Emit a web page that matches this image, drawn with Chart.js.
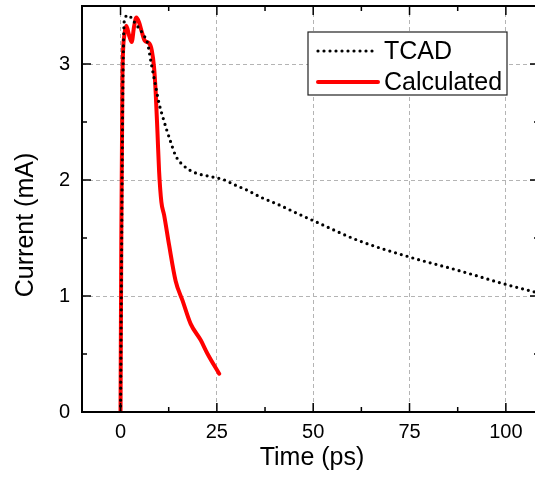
<!DOCTYPE html>
<html>
<head>
<meta charset="utf-8">
<script src="https://cdn.jsdelivr.net/npm/chart.js@4.4.1/dist/chart.umd.min.js"></script>
<style>
  html, body { margin: 0; padding: 0; background: #fff; overflow: hidden; }
  #wrap { width: 535px; height: 479px; overflow: hidden; }
</style>
</head>
<body>
<div id="wrap"><canvas id="c" width="539" height="479"></canvas></div>
<script>
// ---- data ----
const tcadTime = [0, 0.3, 0.6, 1, 2, 3, 4, 5, 6, 7, 8, 9, 10, 11, 12, 13, 14.3, 16.5, 19.5, 23.4, 27, 29.5, 33, 36.5, 40.8, 46, 50, 61.6, 75, 87.7, 100, 108];
const tcadCurrent = [0, 1.5, 2.8, 3.38, 3.42, 3.39, 3.34, 3.30, 3.25, 3.18, 3.00, 2.83, 2.66, 2.54, 2.43, 2.33, 2.21, 2.12, 2.06, 2.03, 2.0, 1.96, 1.91, 1.85, 1.79, 1.71, 1.65, 1.48, 1.336, 1.22, 1.10, 1.03];

const calcTime = [0, 0.2, 0.5, 1, 1.5, 2.2, 2.9, 3.5, 4.1, 4.8, 5.5, 6.3, 7.4, 8.1, 8.7, 9.1, 9.6, 10.0, 10.6, 11.3, 12.6, 14.3, 16.1, 18.2, 20.8, 22.6, 25.6];
const calcCurrent = [0, 1.5, 2.9, 3.25, 3.33, 3.25, 3.19, 3.32, 3.40, 3.36, 3.28, 3.20, 3.18, 3.12, 2.97, 2.77, 2.4, 2.08, 1.81, 1.70, 1.44, 1.13, 0.96, 0.76, 0.62, 0.50, 0.33];

const seriesLabels = ['TCAD', 'Calculated'];
const xTickValues = [0, 25, 50, 75, 100];
const yTickValues = [0, 1, 2, 3];
const xTitle = 'Time (ps)';
const yTitle = 'Current (mA)';

const FONT = '"Liberation Sans", Arial, sans-serif';

const toPts = (xs, ys) => xs.map((x, i) => ({ x: x, y: ys[i] }));

const framePlugin = {
  id: 'frame',
  afterDraw(chart) {
    const ctx = chart.ctx;
    const { left, right, top, bottom } = chart.chartArea;
    const xs = chart.scales.x, ys = chart.scales.y;
    ctx.save();
    ctx.strokeStyle = '#000';
    ctx.lineWidth = 2;
    ctx.strokeRect(left, top, right - left, bottom - top);
    // inward ticks
    ctx.lineWidth = 1.5;
    const xMinor = xTickValues.map(v => v + 12.5);
    const drawX = (v, len) => {
      const p = xs.getPixelForValue(v);
      if (p < left - 1 || p > right + 1) return;
      ctx.beginPath();
      ctx.moveTo(p, bottom); ctx.lineTo(p, bottom - len);
      ctx.moveTo(p, top); ctx.lineTo(p, top + len);
      ctx.stroke();
    };
    xTickValues.forEach(v => drawX(v, 9));
    xMinor.forEach(v => drawX(v, 5));
    const yMinor = yTickValues.map(v => v + 0.5);
    const drawY = (v, len) => {
      const p = ys.getPixelForValue(v);
      if (p < top + 2 || p > bottom + 1) return;
      ctx.beginPath();
      ctx.moveTo(left, p); ctx.lineTo(left + len, p);
      ctx.moveTo(right, p); ctx.lineTo(right - len, p);
      ctx.stroke();
    };
    yTickValues.forEach(v => drawY(v, 9));
    yMinor.forEach(v => drawY(v, 5));

    // axis titles
    ctx.fillStyle = '#000';
    ctx.font = '25px ' + FONT;
    ctx.textAlign = 'center';
    ctx.textBaseline = 'alphabetic';
    ctx.fillText(xTitle, 312, 465);
    ctx.save();
    ctx.translate(33, 225);
    ctx.rotate(-Math.PI / 2);
    ctx.fillText(yTitle, 0, 0);
    ctx.restore();

    // legend
    const lx = 308, ly = 32, lw = 199, lh = 63;
    ctx.fillStyle = '#fff';
    ctx.fillRect(lx, ly, lw, lh);
    ctx.strokeStyle = '#222';
    ctx.lineWidth = 1.2;
    ctx.strokeRect(lx, ly, lw, lh);
    const ds = chart.data.datasets;
    const rows = [51, 82];
    ds.forEach((d, i) => {
      ctx.save();
      ctx.strokeStyle = d.borderColor;
      ctx.lineWidth = d.borderWidth;
      ctx.lineCap = d.borderCapStyle || 'butt';
      ctx.setLineDash(d.borderDash || []);
      ctx.beginPath();
      ctx.moveTo(318, rows[i]);
      ctx.lineTo(378, rows[i]);
      ctx.stroke();
      ctx.restore();
      ctx.fillStyle = '#000';
      ctx.font = '25px ' + FONT;
      ctx.textAlign = 'left';
      ctx.textBaseline = 'middle';
      ctx.fillText(d.label, 384, rows[i] + 1);
    });
    ctx.restore();
  }
};

new Chart(document.getElementById('c'), {
  type: 'line',
  data: {
    datasets: [
      {
        label: seriesLabels[0],
        data: toPts(tcadTime, tcadCurrent),
        borderColor: '#000',
        borderWidth: 3.2,
        borderDash: [0, 6],
        borderCapStyle: 'round',
        pointRadius: 0,
        fill: false,
        cubicInterpolationMode: 'monotone'
      },
      {
        label: seriesLabels[1],
        data: toPts(calcTime, calcCurrent),
        borderColor: '#ff0000',
        borderWidth: 4,
        borderCapStyle: 'round',
        borderJoinStyle: 'round',
        pointRadius: 0,
        fill: false,
        cubicInterpolationMode: 'monotone'
      }
    ]
  },
  options: {
    responsive: false,
    animation: false,
    devicePixelRatio: 1,
    layout: { padding: { top: 6, right: 0, left: 0, bottom: 0 } },
    plugins: { legend: { display: false }, tooltip: { enabled: false } },
    scales: {
      x: {
        type: 'linear',
        min: -10,
        max: 108.6,
        afterBuildTicks: s => { s.ticks = xTickValues.map(v => ({ value: v })); },
        afterFit: s => { s.height = 67; s.paddingLeft = 0; s.paddingRight = 0; },
        ticks: { font: { family: FONT, size: 20 }, color: '#000', padding: 8, maxRotation: 0, autoSkip: false },
        grid: { color: '#b4b4b4', lineWidth: 1, drawTicks: false, borderDash: [4, 3] },
        border: { display: false, dash: [4, 3] }
      },
      y: {
        type: 'linear',
        min: 0,
        max: 3.5,
        afterBuildTicks: s => { s.ticks = yTickValues.map(v => ({ value: v })); },
        afterFit: s => { s.width = 82; s.paddingTop = 0; s.paddingBottom = 0; },
        ticks: { font: { family: FONT, size: 20 }, color: '#000', padding: 12, autoSkip: false },
        grid: { color: '#b4b4b4', lineWidth: 1, drawTicks: false, borderDash: [4, 3] },
        border: { display: false, dash: [4, 3] }
      }
    }
  },
  plugins: [framePlugin]
});
</script>
</body>
</html>
